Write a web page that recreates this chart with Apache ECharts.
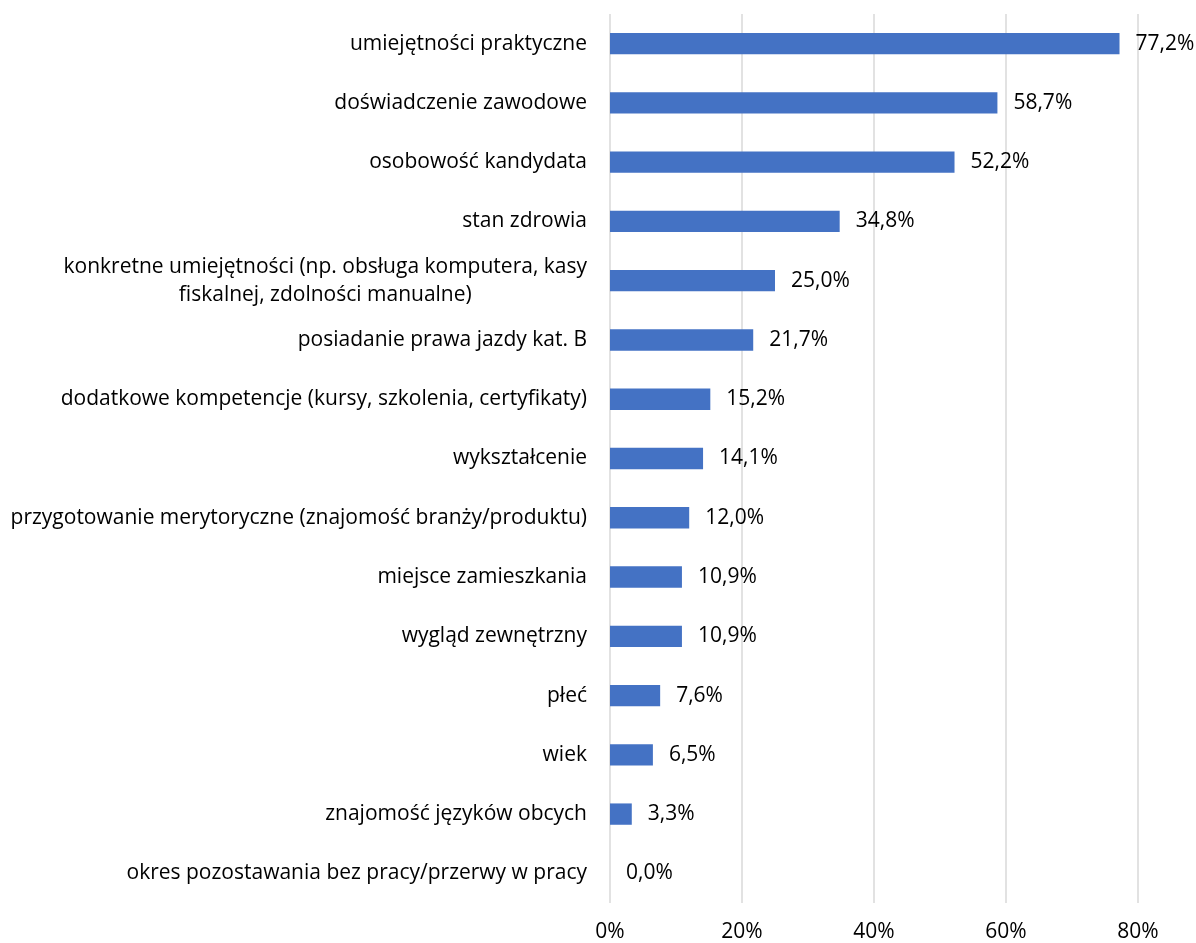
<!DOCTYPE html>
<html>
<head>
<meta charset="utf-8">
<script src="https://cdn.jsdelivr.net/npm/echarts@6/dist/echarts.min.js"></script>
<style>
  html, body { margin: 0; padding: 0; background: #fff; }
  #chart { width: 1196px; height: 943px; }
</style>
</head>
<body>
<div id="chart"></div>
<script>
// Czynniki brane pod uwagę przy rekrutacji (odsetek wskazań)
const categories = [
  'umiejętności praktyczne',
  'doświadczenie zawodowe',
  'osobowość kandydata',
  'stan zdrowia',
  'konkretne umiejętności (np. obsługa komputera, kasy\nfiskalnej, zdolności manualne)',
  'posiadanie prawa jazdy kat. B',
  'dodatkowe kompetencje (kursy, szkolenia, certyfikaty)',
  'wykształcenie',
  'przygotowanie merytoryczne (znajomość branży/produktu)',
  'miejsce zamieszkania',
  'wygląd zewnętrzny',
  'płeć',
  'wiek',
  'znajomość języków obcych',
  'okres pozostawania bez pracy/przerwy w pracy'
];
const values = [77.2, 58.7, 52.2, 34.8, 25.0, 21.7, 15.2, 14.1, 12.0, 10.9, 10.9, 7.6, 6.5, 3.3, 0.0];
const axisTicks = [0, 20, 40, 60, 80];

const FONT = 'Open Sans';
const SIZE = 21;
const TEXT = '#000000';

const chart = echarts.init(document.getElementById('chart'));
chart.setOption({
  animation: false,
  grid: { left: 610, right: 58, top: 14, bottom: 39, containLabel: false },
  xAxis: {
    type: 'value',
    min: axisTicks[0],
    max: axisTicks[axisTicks.length - 1],
    interval: axisTicks[1] - axisTicks[0],
    axisLine: { show: false },
    axisTick: { show: false },
    splitLine: { show: true, lineStyle: { color: '#d9d9d9', width: 1.5 } },
    axisLabel: {
      formatter: '{value}%',
      margin: 19,
      color: TEXT,
      fontFamily: FONT,
      fontSize: SIZE
    }
  },
  yAxis: {
    type: 'category',
    inverse: true,
    data: categories,
    axisLine: { show: false },
    axisTick: { show: false },
    axisLabel: {
      margin: 23,
      color: TEXT,
      fontFamily: FONT,
      fontSize: SIZE,
      lineHeight: 28,
      formatter: function (v) {
        return v.split('\n').map(function (s) { return '{c|' + s + '}'; }).join('\n');
      },
      rich: {
        c: { align: 'center', color: TEXT, fontFamily: FONT, fontSize: SIZE, lineHeight: 28 }
      }
    }
  },
  series: [{
    type: 'bar',
    data: values,
    barWidth: '36%',
    itemStyle: { color: '#4472C4' },
    label: {
      show: true,
      position: 'right',
      distance: 16,
      color: TEXT,
      fontFamily: FONT,
      fontSize: SIZE,
      formatter: function (p) { return p.value.toFixed(1).replace('.', ',') + '%'; }
    }
  }]
});
</script>
</body>
</html>
